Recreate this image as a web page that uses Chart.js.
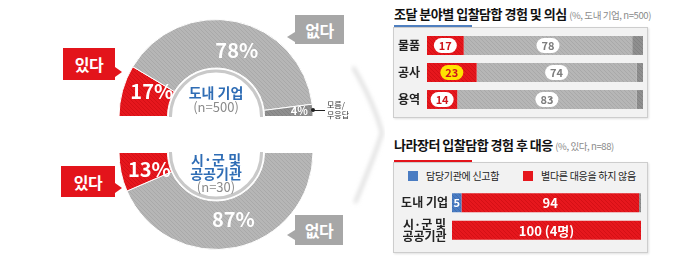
<!DOCTYPE html>
<html>
<head>
<meta charset="utf-8">
<script src="https://cdn.jsdelivr.net/npm/chart.js@4.4.1/dist/chart.umd.min.js"></script>
<style>
  body { margin: 0; width: 700px; height: 261px; background: #fff; position: relative; overflow: hidden;
         font-family: "Noto Sans CJK KR", "Noto Sans", sans-serif; }
  canvas { position: absolute; }
  .tag { position: absolute; color: #fff; font-weight: bold; font-size: 16px; letter-spacing: -0.5px;
         display: flex; align-items: center; justify-content: center; }
  .tag.red { background: #e3141b; }
  .tag.gray { background: #a7a7a7; }
  .tag i { position: absolute; width: 0; height: 0; border-top: 5px solid transparent; border-bottom: 5px solid transparent; }
  .tag.red i { right: -7px; border-left: 7px solid #e3141b; }
  .tag.gray i { left: -8px; border-right: 8px solid #a7a7a7; }
  .title { position: absolute; left: 394px; font-size: 13px; font-weight: bold; letter-spacing: -0.5px; color: #111; line-height: 16px; white-space: nowrap; }
  .title span { font-size: 9.5px; font-weight: normal; color: #8a8a8a; letter-spacing: -0.4px; }
  .uline { position: absolute; left: 394px; width: 78px; height: 2px; }
  .box { position: absolute; left: 393px; width: 253px; background: #f2f2f2; border: 1px solid #cdcdcd; box-shadow: 1px 1px 2px rgba(0,0,0,0.12); }
  .note { position: absolute; left: 327px; top: 100px; font-size: 8px; line-height: 10px; color: #333; }
  .legend { position: absolute; top: 168px; font-size: 10px; color: #222; white-space: nowrap; letter-spacing: -0.3px; }
  .legend b { display: inline-block; width: 10px; height: 10px; vertical-align: -1px; margin-right: 8px; }
</style>
</head>
<body>
<svg style="position:absolute;left:335px;top:55px" width="60" height="160">
  <defs><filter id="blur"><feGaussianBlur stdDeviation="2"/></filter></defs>
  <path d="M18 12 Q40 50 47 78 Q40 100 20 148" fill="none" stroke="#d8d8d8" stroke-width="3" filter="url(#blur)"/>
</svg>

<canvas id="donutProv" width="196" height="98" style="left:118px;top:19px"></canvas>
<canvas id="donutCity" width="196" height="98" style="left:118px;top:152px"></canvas>

<div class="tag red" style="left:63px;top:48px;width:52px;height:32px">있다<i style="top:19px"></i></div>
<div class="tag gray" style="left:295px;top:15px;width:49px;height:29px">없다<i style="top:17px"></i></div>
<div class="tag red" style="left:61px;top:166px;width:54px;height:31px">있다<i style="top:17px"></i></div>
<div class="tag gray" style="left:295px;top:215px;width:48px;height:30px">없다<i style="top:15px"></i></div>

<div style="position:absolute;left:312px;top:110px;width:13px;height:1px;background:#222"></div>
<div style="position:absolute;left:311px;top:108px;width:4px;height:4px;border-radius:2px;background:#222"></div>
<div class="note">모름/<br>무응답</div>

<div class="title" style="top:6px">조달 분야별 입찰담합 경험 및 의심 <span>(%, 도내 기업, n=500)</span></div>
<div class="box" style="top:27px;height:89px"></div>
<div class="uline" style="top:25px;background:#4f7fbf"></div>
<canvas id="barField" width="249" height="81" style="left:394px;top:32px"></canvas>

<div class="title" style="top:137px">나라장터 입찰담합 경험 후 대응 <span>(%, 있다, n=88)</span></div>
<div class="box" style="top:162px;height:89px"></div>
<div class="uline" style="top:160px;background:#e3141b"></div>
<div id="legend"></div>
<canvas id="barResp" width="247" height="55" style="left:394px;top:189px"></canvas>

<script>
// 도내 기업 (n=500): 있다 / 없다 / 모름·무응답
const provLabels = ['있다', '없다', '모름/무응답'];
const provValues = [17, 78, 4];
// 시·군 및 공공기관 (n=30), drawn from the right end round to the left
const cityLabels = ['없다', '있다'];
const cityValues = [87, 13];

// 조달 분야별
const fields = ['물품', '공사', '용역'];
const fieldYes = [17, 23, 14];
const fieldNo = [78, 74, 83];
const fieldDk = [5, 3, 3];

// 경험 후 대응
const groups = ['도내 기업', ['시·군 및', '공공기관']];
const respReport = [5, 0];
const respNone = [94, 100];
const respOther = [1, 0];
const respNote = ['', ' (4명)'];
const respNames = ['담당기관에 신고함', '별다른 대응을 하지 않음'];

const FONT = '"Noto Sans CJK KR", "Noto Sans", sans-serif';

function hatch(base, stripe) {
  const c = document.createElement('canvas');
  c.width = 4; c.height = 4;
  const g = c.getContext('2d');
  g.fillStyle = base;
  g.fillRect(0, 0, 4, 4);
  g.strokeStyle = stripe;
  g.lineWidth = 1;
  g.beginPath();
  g.moveTo(0, 0); g.lineTo(4, 4);
  g.moveTo(-1, 3); g.lineTo(1, 5);
  g.moveTo(3, -1); g.lineTo(5, 1);
  g.stroke();
  return g.createPattern(c, 'repeat');
}

const RED = hatch('#e6171d', '#d40f15');
const GRAY = hatch('#b6b6b6', '#a9a9a9');
const DARK = hatch('#8f8f8f', '#828282');
const BLUE = hatch('#4a7cc2', '#3d6db2');

const ringPlugin = {
  id: 'ring',
  afterDatasetsDraw(chart, args, opts) {
    const ctx = chart.ctx;
    const meta = chart.getDatasetMeta(0);
    const first = meta.data[0];
    const cx = first.x, cy = first.y;
    const inner = first.innerRadius, outer = first.outerRadius;
    ctx.save();
    ctx.beginPath();
    ctx.arc(cx, cy, inner - 3, 0, Math.PI * 2);
    ctx.fillStyle = '#fff';
    ctx.fill();
    ctx.lineWidth = 3;
    ctx.strokeStyle = '#c9c9c9';
    ctx.stroke();

    ctx.textAlign = 'center';
    ctx.textBaseline = 'middle';
    const values = chart.data.datasets[0].data;
    meta.data.forEach((arc, i) => {
      const v = values[i];
      const small = v < 10;
      // nudge big labels a little clockwise, as in the original layout
      const mid = (arc.startAngle + arc.endAngle) / 2 + (small ? 0 : opts.turn);
      const r = inner + (outer - inner) * (small ? 0.72 : 0.42);
      ctx.font = (small ? 'bold 11px ' : 'bold 20px ') + FONT;
      ctx.fillStyle = '#fff';
      ctx.fillText(v + '%', cx + Math.cos(mid) * r, cy + Math.sin(mid) * r);
    });

    opts.lines.forEach(l => {
      ctx.font = l.font + ' ' + FONT;
      ctx.fillStyle = l.color;
      ctx.fillText(l.text, cx, cy + l.dy);
    });
    ctx.restore();
  }
};

function donut(id, labels, values, colors, rotation, turn, lines) {
  return new Chart(document.getElementById(id), {
    type: 'doughnut',
    data: {
      labels: labels,
      datasets: [{ data: values, backgroundColor: colors, borderColor: '#fff', borderWidth: 1 }]
    },
    options: {
      responsive: false,
      animation: false,
      rotation: rotation,
      circumference: 180,
      cutout: '50%',
      plugins: { legend: { display: false }, tooltip: { enabled: false }, ring: { lines: lines, turn: turn } }
    },
    plugins: [ringPlugin]
  });
}

donut('donutProv', provLabels, provValues, [RED, GRAY, DARK], -90, 0.1, [
  { text: '도내 기업', font: 'bold 14px', color: '#2f6db5', dy: -24 },
  { text: '(n=500)', font: '13px', color: '#8a8a8a', dy: -9 }
]);
donut('donutCity', cityLabels, cityValues, [GRAY, RED], 90, -0.05, [
  { text: '시·군 및', font: 'bold 14px', color: '#2f6db5', dy: 7 },
  { text: '공공기관', font: 'bold 14px', color: '#2f6db5', dy: 21 },
  { text: '(n=30)', font: '13px', color: '#8a8a8a', dy: 35 }
]);

// labels inside the stacked bars
const barLabelPlugin = {
  id: 'barLabels',
  afterDatasetsDraw(chart, args, opts) {
    const ctx = chart.ctx;
    ctx.save();
    ctx.textAlign = 'center';
    ctx.textBaseline = 'middle';
    opts.sets.forEach(s => {
      const meta = chart.getDatasetMeta(s.dataset);
      const data = chart.data.datasets[s.dataset].data;
      meta.data.forEach((bar, i) => {
        const v = data[i];
        if (!v) return;
        const text = v + (s.suffix ? s.suffix[i] : '');
        const x = (bar.x + bar.base) / 2, y = bar.y;
        ctx.font = s.font + ' ' + FONT;
        if (s.pill) {
          const w = ctx.measureText(text).width + 10, h = 15;
          const hl = opts.highlight && opts.highlight[0] === s.dataset && opts.highlight[1] === i;
          ctx.beginPath();
          ctx.roundRect(x - w / 2, y - h / 2, w, h, h / 2);
          ctx.fillStyle = hl ? '#ffe400' : '#fff';
          ctx.fill();
        }
        ctx.fillStyle = s.color;
        ctx.fillText(text, x, y + 0.5);
      });
    });
    ctx.restore();
  }
};

function stacked(id, labels, sets, axisWidth, tickOpts, labelOpts) {
  return new Chart(document.getElementById(id), {
    type: 'bar',
    data: { labels: labels, datasets: sets },
    options: {
      indexAxis: 'y',
      responsive: false,
      animation: false,
      layout: { padding: 0 },
      scales: {
        x: { stacked: true, min: 0, max: 100, display: false },
        y: Object.assign({
          stacked: true,
          grid: { display: false, drawTicks: false },
          border: { display: false },
          afterFit: s => { s.width = axisWidth; s.paddingTop = 0; s.paddingBottom = 0; }
        }, tickOpts)
      },
      plugins: { legend: { display: false }, tooltip: { enabled: false }, barLabels: labelOpts }
    },
    plugins: [barLabelPlugin]
  });
}

stacked('barField', fields, [
  { label: '있다', data: fieldYes, backgroundColor: RED, barPercentage: 0.7, categoryPercentage: 1 },
  { label: '없다', data: fieldNo, backgroundColor: GRAY, barPercentage: 0.7, categoryPercentage: 1 },
  { label: '모름/무응답', data: fieldDk, backgroundColor: DARK, barPercentage: 0.7, categoryPercentage: 1 }
], 33, {
  ticks: { color: '#222', padding: 7, font: { family: FONT, size: 12, weight: 'bold' } }
}, {
  highlight: [0, 1],
  sets: [
    { dataset: 0, font: 'bold 11px', color: '#cf151b', pill: true },
    { dataset: 1, font: 'bold 11px', color: '#7d7d7d', pill: true }
  ]
});

stacked('barResp', groups, [
  { label: respNames[0], data: respReport, backgroundColor: BLUE, barPercentage: 0.69, categoryPercentage: 1 },
  { label: respNames[1], data: respNone, backgroundColor: RED, barPercentage: 0.69, categoryPercentage: 1 },
  { label: '기타', data: respOther, backgroundColor: DARK, barPercentage: 0.69, categoryPercentage: 1 }
], 58, {
  ticks: { color: '#222', padding: 4, crossAlign: 'center', font: { family: FONT, size: 12, weight: 'bold', lineHeight: 1.0 } }
}, {
  sets: [
    { dataset: 0, font: 'bold 11px', color: '#fff' },
    { dataset: 1, font: 'bold 13px', color: '#fff', suffix: respNote }
  ]
});

// legend for the response chart
const legendPos = [408, 523];
document.getElementById('legend').innerHTML = respNames.map((n, i) =>
  '<div class="legend" style="left:' + legendPos[i] + 'px"><b style="background:' +
  (i === 0 ? '#4a7cc2' : '#e6171d') + '"></b>' + n + '</div>').join('');
</script>
</body>
</html>
